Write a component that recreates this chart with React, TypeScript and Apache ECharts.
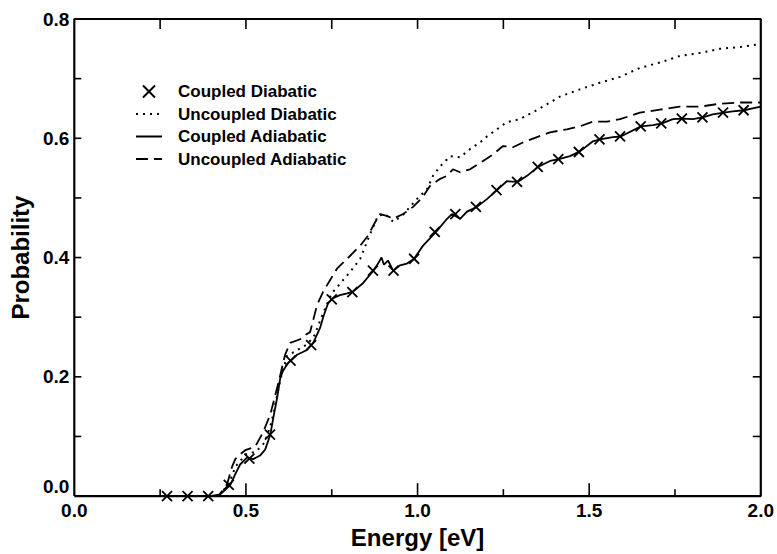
import React, { useEffect, useRef } from "react";
import * as echarts from "echarts";

const seriesNames = ["Coupled Diabatic", "Uncoupled Diabatic", "Coupled Adiabatic", "Uncoupled Adiabatic"];

const xTickLabels = ["0.0", "0.5", "1.0", "1.5", "2.0"];
const yTickLabels = ["0.0", "0.2", "0.4", "0.6", "0.8"];

// tick positions of the plot frame
const xMajorTicks = [0.5, 1.0, 1.5];
const xMinorTicks = [0.25, 0.75, 1.25, 1.75];
const yFrameTicks = [0.1, 0.2, 0.3, 0.4, 0.5, 0.6, 0.7];

// Coupled Diabatic (markers only)
const coupledDiabatic: [number, number][] = [
  [0.27, 0], [0.33, 0], [0.39, 0], [0.45, 0.019], [0.51, 0.063], [0.57, 0.103], [0.63, 0.227],
  [0.69, 0.253], [0.75, 0.33], [0.81, 0.342], [0.87, 0.378], [0.93, 0.378], [0.99, 0.398],
  [1.05, 0.443], [1.11, 0.473], [1.17, 0.485], [1.23, 0.513], [1.29, 0.527], [1.35, 0.552],
  [1.41, 0.565], [1.47, 0.577], [1.53, 0.598], [1.59, 0.603], [1.65, 0.62], [1.71, 0.625],
  [1.77, 0.633], [1.83, 0.635], [1.89, 0.643], [1.95, 0.647],
];

// Uncoupled Diabatic (dotted)
const uncoupledDiabatic: [number, number][] = [
  [0.3, 0], [0.42, 0], [0.45, 0.02], [0.47, 0.05], [0.5, 0.07], [0.53, 0.075], [0.555, 0.09],
  [0.575, 0.125], [0.6, 0.195], [0.62, 0.235], [0.65, 0.245], [0.68, 0.255], [0.7, 0.27],
  [0.72, 0.3], [0.75, 0.34], [0.78, 0.36], [0.812, 0.382], [0.833, 0.398], [0.853, 0.427],
  [0.868, 0.448], [0.885, 0.47], [0.905, 0.473], [0.929, 0.46], [0.955, 0.47], [0.978, 0.485],
  [0.998, 0.498], [1.028, 0.515], [1.045, 0.537], [1.066, 0.553], [1.095, 0.57], [1.124, 0.568],
  [1.153, 0.582], [1.182, 0.593], [1.202, 0.603], [1.231, 0.615], [1.26, 0.627], [1.298, 0.632],
  [1.35, 0.648], [1.415, 0.67], [1.473, 0.682], [1.531, 0.693], [1.59, 0.703], [1.648, 0.718],
  [1.706, 0.727], [1.764, 0.738], [1.822, 0.743], [1.881, 0.75], [1.939, 0.753], [2.0, 0.758],
];

// Coupled Adiabatic (solid)
const coupledAdiabatic: [number, number][] = [
  [0.3, 0], [0.396, 0], [0.425, 0.003], [0.454, 0.018], [0.469, 0.037], [0.483, 0.053],
  [0.504, 0.065], [0.521, 0.062], [0.541, 0.068], [0.556, 0.078], [0.571, 0.103], [0.58, 0.132],
  [0.591, 0.165], [0.6, 0.198], [0.608, 0.21], [0.623, 0.223], [0.649, 0.237], [0.678, 0.245],
  [0.696, 0.257], [0.716, 0.282], [0.725, 0.3], [0.739, 0.323], [0.754, 0.332], [0.774, 0.337],
  [0.795, 0.34], [0.812, 0.343], [0.841, 0.357], [0.87, 0.377], [0.885, 0.39], [0.895, 0.4],
  [0.902, 0.388], [0.914, 0.395], [0.929, 0.378], [0.949, 0.387], [0.969, 0.39], [0.99, 0.398],
  [1.016, 0.42], [1.054, 0.443], [1.086, 0.465], [1.1, 0.473], [1.124, 0.465], [1.144, 0.477],
  [1.173, 0.485], [1.202, 0.498], [1.231, 0.513], [1.26, 0.528], [1.293, 0.527], [1.319, 0.537],
  [1.351, 0.552], [1.386, 0.562], [1.412, 0.565], [1.444, 0.57], [1.473, 0.578], [1.511, 0.595],
  [1.531, 0.598], [1.569, 0.602], [1.592, 0.603], [1.651, 0.62], [1.686, 0.622], [1.712, 0.625],
  [1.744, 0.632], [1.773, 0.633], [1.802, 0.632], [1.831, 0.635], [1.86, 0.64], [1.892, 0.643],
  [1.918, 0.645], [1.951, 0.647], [2.0, 0.653],
];

// Uncoupled Adiabatic (dashed)
const uncoupledAdiabatic: [number, number][] = [
  [0.3, 0], [0.42, 0], [0.445, 0.02], [0.46, 0.05], [0.469, 0.062], [0.483, 0.07], [0.498, 0.077],
  [0.527, 0.083], [0.55, 0.107], [0.571, 0.137], [0.585, 0.168], [0.6, 0.203], [0.614, 0.237],
  [0.629, 0.257], [0.658, 0.263], [0.672, 0.27], [0.687, 0.275], [0.707, 0.32], [0.725, 0.343],
  [0.745, 0.362], [0.766, 0.382], [0.795, 0.398], [0.833, 0.42], [0.856, 0.437], [0.875, 0.458],
  [0.891, 0.473], [0.91, 0.47], [0.929, 0.465], [0.958, 0.473], [0.987, 0.485], [1.016, 0.502],
  [1.036, 0.52], [1.066, 0.532], [1.086, 0.537], [1.103, 0.548], [1.124, 0.543], [1.153, 0.548],
  [1.191, 0.562], [1.22, 0.573], [1.249, 0.587], [1.278, 0.585], [1.307, 0.593], [1.348, 0.602],
  [1.386, 0.61], [1.435, 0.615], [1.473, 0.62], [1.511, 0.628], [1.552, 0.628], [1.59, 0.632],
  [1.648, 0.643], [1.706, 0.648], [1.764, 0.653], [1.822, 0.653], [1.881, 0.658], [1.939, 0.66],
  [2.0, 0.66],
];

const FONT = "'Liberation Sans', Arial, Helvetica, sans-serif";
const CROSS = "path://M0,0L10,10M10,0L0,10";

const X_MIN = 0, X_MAX = 2, Y_MIN = 0, Y_MAX = 0.8;
const GRID = { left: 74, right: 16, top: 19, bottom: 55 };
const W = 777, H = 554;

export default function App() {
  const ref = useRef<HTMLDivElement>(null);
  useEffect(() => {
    if (!ref.current) return;
    const chart = echarts.init(ref.current, undefined, { renderer: "svg" });
    const hiddenSymbol = () => ({ color: "transparent", borderWidth: 0, opacity: 0 });

    // pixel lengths of ticks converted to data units of the grid
    const ux = (X_MAX - X_MIN) / (W - GRID.left - GRID.right);
    const uy = (Y_MAX - Y_MIN) / (H - GRID.top - GRID.bottom);
    const segs: [number, number][][] = [];
    xMajorTicks.forEach((v) => {
      segs.push([[v, Y_MIN], [v, Y_MIN + 13 * uy]]);
      segs.push([[v, Y_MAX], [v, Y_MAX - 10 * uy]]);
    });
    xMinorTicks.forEach((v) => {
      segs.push([[v, Y_MIN], [v, Y_MIN + 7 * uy]]);
      segs.push([[v, Y_MAX], [v, Y_MAX - 10 * uy]]);
    });
    yFrameTicks.forEach((v) => {
      segs.push([[X_MIN, v], [X_MIN + 7 * ux, v]]);
      segs.push([[X_MAX, v], [X_MAX - 8 * ux, v]]);
    });
    const frameSeries: any[] = [
      {
        type: "line",
        name: "frame",
        data: [[X_MIN, Y_MIN], [X_MAX, Y_MIN], [X_MAX, Y_MAX], [X_MIN, Y_MAX], [X_MIN, Y_MIN]],
        symbol: "none",
        clip: false,
        lineStyle: { color: "#000", width: 2.2, type: "solid" },
        itemStyle: { color: "#000" },
        tooltip: { show: false },
        z: 1,
      },
      ...segs.map((s, i) => ({
        type: "line",
        name: "tick" + i,
        data: s,
        symbol: "none",
        clip: false,
        lineStyle: { color: "#000", width: 1.6, type: "solid" },
        itemStyle: { color: "#000" },
        z: 1,
      })),
    ];

    chart.setOption({
      animation: false,
      grid: { ...GRID },
      legend: {
        orient: "vertical",
        left: 130,
        top: 78,
        itemWidth: 26,
        itemHeight: 12,
        itemGap: 5.5,
        textStyle: {
          fontFamily: FONT,
          fontWeight: "bold",
          fontSize: 17,
          lineHeight: 17,
          color: "#000",
          padding: [0, 0, 0, 11],
        },
        data: [
          { name: seriesNames[0], icon: CROSS },
          { name: seriesNames[1], itemStyle: hiddenSymbol() },
          { name: seriesNames[2], itemStyle: hiddenSymbol() },
          { name: seriesNames[3], itemStyle: hiddenSymbol() },
        ],
      },
      xAxis: {
        type: "value",
        min: X_MIN,
        max: X_MAX,
        interval: 0.5,
        position: "bottom",
        name: "Energy [eV]",
        nameLocation: "middle",
        nameGap: 25,
        nameTextStyle: { fontFamily: FONT, fontWeight: "bold", fontSize: 24, color: "#000" },
        axisLine: { show: false },
        axisTick: { show: false },
        splitLine: { show: false },
        axisLabel: {
          show: true,
          fontFamily: FONT,
          fontWeight: "bold",
          fontSize: 19,
          color: "#000",
          margin: 5,
          showMinLabel: true,
          showMaxLabel: true,
          formatter: (v: number) => xTickLabels[Math.round(v / 0.5)] ?? "",
        },
      },
      yAxis: {
        type: "value",
        min: Y_MIN,
        max: Y_MAX,
        interval: 0.2,
        position: "left",
        name: "Probability",
        nameLocation: "middle",
        nameGap: 40,
        nameTextStyle: { fontFamily: FONT, fontWeight: "bold", fontSize: 24, color: "#000" },
        axisLine: { show: false },
        axisTick: { show: false },
        splitLine: { show: false },
        axisLabel: {
          show: true,
          fontFamily: FONT,
          fontWeight: "bold",
          fontSize: 19,
          color: "#000",
          margin: 5,
          showMinLabel: true,
          showMaxLabel: true,
          verticalAlignMinLabel: "bottom",
          formatter: (v: number) => yTickLabels[Math.round(v / 0.2)] ?? "",
        },
      },
      series: [
        ...frameSeries,
        {
          name: seriesNames[0],
          type: "scatter",
          data: coupledDiabatic,
          symbol: CROSS,
          symbolSize: 10,
          itemStyle: { color: "none", borderColor: "#000", borderWidth: 1.8, opacity: 1 },
          z: 5,
        },
        {
          name: seriesNames[1],
          type: "line",
          data: uncoupledDiabatic,
          symbol: "none",
          lineStyle: { color: "#000", width: 2, type: [2, 5] },
          itemStyle: { color: "#000" },
        },
        {
          name: seriesNames[2],
          type: "line",
          data: coupledAdiabatic,
          symbol: "none",
          lineStyle: { color: "#000", width: 1.8, type: "solid" },
          itemStyle: { color: "#000" },
        },
        {
          name: seriesNames[3],
          type: "line",
          data: uncoupledAdiabatic,
          symbol: "none",
          lineStyle: { color: "#000", width: 1.8, type: [12, 6] },
          itemStyle: { color: "#000" },
        },
      ],
    });

    return () => chart.dispose();
  }, []);
  return <div ref={ref} style={{ position: "fixed", left: 0, top: 0, width: W, height: H, background: "#fff" }} />;
}
